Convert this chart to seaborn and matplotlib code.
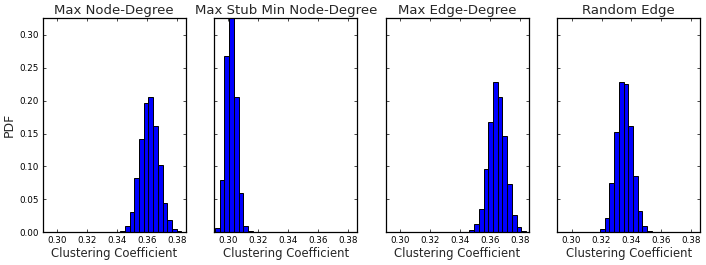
"""
Histogrammes du coefficient de clustering pour quatre stratégies d'attaque.
"""

import numpy as np
import pandas as pd
import matplotlib
matplotlib.use("Agg")
import matplotlib.pyplot as plt
import seaborn as sns

# Données (PDF = fraction par classe)
titles = ["Max Node-Degree", "Max Stub Min Node-Degree",
          "Max Edge-Degree", "Random Edge"]
bin_width = 0.00315
first_edges = [0.3391, 0.2910, 0.3400, 0.3158]
heights_node = [0.0005, 0.002, 0.010, 0.031, 0.082, 0.141, 0.196, 0.205,
                0.161, 0.102, 0.045, 0.019, 0.0055, 0.002]
heights_stub = [0.006, 0.080, 0.267, 0.371, 0.205, 0.059, 0.0096, 0.002]
heights_edge = [0.0005, 0.001, 0.003, 0.012, 0.035, 0.096, 0.167, 0.229,
                0.205, 0.146, 0.074, 0.027, 0.008, 0.002]
heights_random = [0.001, 0.005, 0.022, 0.0745, 0.153, 0.229, 0.2255,
                  0.162, 0.085, 0.033, 0.009, 0.002]
all_heights = [heights_node, heights_stub, heights_edge, heights_random]

x_limits = (0.2905, 0.386)
y_limits = (0.0, 0.325)
x_ticks = [0.30, 0.32, 0.34, 0.36, 0.38]
y_ticks = [0.00, 0.05, 0.10, 0.15, 0.20, 0.25, 0.30]

sns.set_theme(style="white", rc={
    "axes.edgecolor": "black", "axes.linewidth": 1.0,
    "xtick.color": "black", "ytick.color": "black",
})
plt.rcParams["font.family"] = ["DejaVu Sans"]

fig, axes = plt.subplots(1, 4, figsize=(7.06, 2.65), dpi=100, sharey=True)
fig.subplots_adjust(left=0.0605, right=0.992, bottom=0.1234, top=0.931,
                    wspace=0.2)

for ax, title, first, heights in zip(axes, titles, first_edges, all_heights):
    n = len(heights)
    centers = first + bin_width * (np.arange(n) + 0.5)
    df = pd.DataFrame({"x": centers, "pdf": heights})
    sns.histplot(data=df, x="x", weights="pdf", binwidth=bin_width,
                 binrange=(first, first + n * bin_width), stat="count",
                 color="#0000ff", edgecolor="black", linewidth=0.7,
                 alpha=1.0, ax=ax)
    ax.set_xlim(*x_limits)
    ax.set_ylim(*y_limits)
    ax.set_xticks(x_ticks)
    ax.set_xticklabels([f"{t:.2f}" for t in x_ticks], fontsize=6.3)
    ax.set_yticks(y_ticks)
    ax.tick_params(axis="both", which="major", direction="in",
                   top=True, right=True, bottom=True, left=True,
                   length=2.5, width=0.5, pad=2.5, colors="black")
    ax.set_title(title, fontsize=9.5, pad=3)
    ax.set_xlabel("Clustering Coefficient", fontsize=8.4, labelpad=1.5)
    ax.set_ylabel("")
    for spine in ax.spines.values():
        spine.set_visible(True)
        spine.set_color("black")
        spine.set_linewidth(0.9)

axes[0].set_yticklabels([f"{t:.2f}" for t in y_ticks], fontsize=6.3)
axes[0].set_ylabel("PDF", fontsize=9, labelpad=3)

plt.savefig("out.png", dpi=100)
plt.close()
